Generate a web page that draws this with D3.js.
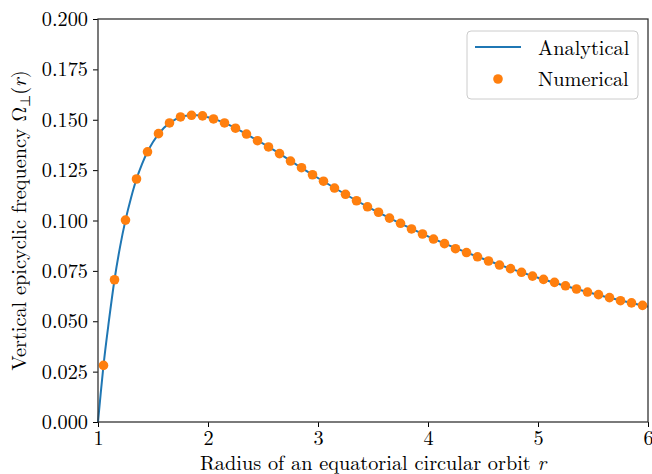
<!DOCTYPE html>
<html>
<head>
<meta charset="utf-8">
<script src="https://cdn.jsdelivr.net/npm/d3@7"></script>
<style>
  body { margin: 0; background: #fff; }
</style>
</head>
<body>
<div id="chart"></div>
<script>
// Numerical points
const numR = [1.05, 1.15, 1.25, 1.35, 1.45, 1.55, 1.65, 1.75, 1.85, 1.95,
  2.05, 2.15, 2.25, 2.35, 2.45, 2.55, 2.65, 2.75, 2.85, 2.95,
  3.05, 3.15, 3.25, 3.35, 3.45, 3.55, 3.65, 3.75, 3.85, 3.95,
  4.05, 4.15, 4.25, 4.35, 4.45, 4.55, 4.65, 4.75, 4.85, 4.95,
  5.05, 5.15, 5.25, 5.35, 5.45, 5.55, 5.65, 5.75, 5.85, 5.95];
const numOmega = [0.0281, 0.0706, 0.1002, 0.1206, 0.1341, 0.1431, 0.1484, 0.1514, 0.1522, 0.1519,
  0.1504, 0.1484, 0.1458, 0.1429, 0.1396, 0.1365, 0.1332, 0.1295, 0.1262, 0.1227,
  0.1195, 0.1161, 0.1130, 0.1098, 0.1068, 0.1041, 0.1012, 0.0986, 0.0958, 0.0933,
  0.0908, 0.0885, 0.0860, 0.0841, 0.0820, 0.0799, 0.0779, 0.0761, 0.0743, 0.0724,
  0.0708, 0.0693, 0.0676, 0.0660, 0.0645, 0.0632, 0.0617, 0.0602, 0.0591, 0.0579];

// Analytical curve
const anaR = [1.0, 1.025, 1.05, 1.1, 1.15, 1.2, 1.25, 1.3, 1.35, 1.4, 1.45, 1.5,
  1.6, 1.7, 1.8, 1.9, 2.0, 2.2, 2.4, 2.6, 2.8, 3.0, 3.5, 4.0, 4.5, 5.0, 5.5, 6.0];
const anaOmega = [0.0, 0.0145, 0.0281, 0.0505, 0.0706, 0.0868, 0.1002, 0.1112, 0.1206, 0.1280, 0.1341, 0.1390,
  0.1460, 0.1501, 0.1520, 0.1522, 0.1512, 0.1472, 0.1413, 0.1349, 0.1279, 0.1211, 0.1054, 0.0921, 0.0810, 0.0716, 0.0638, 0.0572];

const xTicks = [1, 2, 3, 4, 5, 6];
const yTicks = [0, 0.025, 0.05, 0.075, 0.1, 0.125, 0.15, 0.175, 0.2];

const width = 652;
const height = 474;
const mLeft = 98, mRight = 648, mTop = 19, mBottom = 422;
const font = "Latin Modern Roman, CMU Serif, serif";
const fs = 20.3;

const svg = d3.select("#chart")
  .append("svg")
  .attr("width", width)
  .attr("height", height);

const x = d3.scaleLinear().domain([1, 6]).range([mLeft, mRight]);
const y = d3.scaleLinear().domain([0, 0.2]).range([mBottom, mTop]);

// Analytical line
const anaData = anaR.map((r, i) => [r, anaOmega[i]]);
svg.append("path")
  .datum(anaData)
  .attr("fill", "none")
  .attr("stroke", "#1f77b4")
  .attr("stroke-width", 2)
  .attr("d", d3.line().x(d => x(d[0])).y(d => y(d[1])).curve(d3.curveMonotoneX));

// Numerical points
svg.append("g")
  .selectAll("circle")
  .data(numR.map((r, i) => [r, numOmega[i]]))
  .join("circle")
  .attr("cx", d => x(d[0]))
  .attr("cy", d => y(d[1]))
  .attr("r", 4.8)
  .attr("fill", "#ff7f0e");

// Axes
const xAxis = svg.append("g")
  .attr("transform", `translate(0, ${mBottom})`)
  .call(d3.axisBottom(x).tickValues(xTicks).tickSize(5).tickPadding(4).tickFormat(d3.format("d")));
const yAxis = svg.append("g")
  .attr("transform", `translate(${mLeft}, 0)`)
  .call(d3.axisLeft(y).tickValues(yTicks).tickSize(5).tickPadding(5).tickFormat(d3.format(".3f")));
[xAxis, yAxis].forEach(g => {
  g.attr("font-family", font).attr("font-size", fs);
  g.select(".domain").remove();
  g.selectAll("line").attr("stroke", "#000").attr("stroke-width", 1);
});

// Frame
svg.append("rect")
  .attr("x", mLeft).attr("y", mTop)
  .attr("width", mRight - mLeft).attr("height", mBottom - mTop)
  .attr("fill", "none")
  .attr("stroke", "#333")
  .attr("stroke-width", 1.3);

// Labels
const xl = svg.append("text")
  .attr("x", (mLeft + mRight) / 2)
  .attr("y", 470)
  .attr("text-anchor", "middle")
  .attr("font-family", font)
  .attr("font-size", fs);
xl.append("tspan").text("Radius of an equatorial circular orbit ");
xl.append("tspan").attr("font-style", "italic").text("r");

const yl = svg.append("text")
  .attr("transform", `translate(25.5, ${(mTop + mBottom) / 2}) rotate(-90)`)
  .attr("text-anchor", "middle")
  .attr("font-family", font)
  .attr("font-size", fs);
yl.append("tspan").text("Vertical epicyclic frequency Ω");
yl.append("tspan").attr("dy", 4).attr("font-size", 14).text("⊥");
yl.append("tspan").attr("dy", -4).text("(");
yl.append("tspan").attr("font-style", "italic").text("r");
yl.append("tspan").text(")");

// Legend
const legend = svg.append("g");
legend.append("rect")
  .attr("x", 467).attr("y", 31)
  .attr("width", 171).attr("height", 68)
  .attr("rx", 4)
  .attr("fill", "#fff")
  .attr("fill-opacity", 0.8)
  .attr("stroke", "#ccc");
legend.append("line")
  .attr("x1", 475).attr("x2", 521)
  .attr("y1", 47).attr("y2", 47)
  .attr("stroke", "#1f77b4").attr("stroke-width", 2);
legend.append("circle")
  .attr("cx", 498).attr("cy", 79).attr("r", 4.8)
  .attr("fill", "#ff7f0e");
legend.append("text").attr("x", 538).attr("y", 55)
  .attr("font-family", font).attr("font-size", fs).text("Analytical");
legend.append("text").attr("x", 538).attr("y", 86)
  .attr("font-family", font).attr("font-size", fs).text("Numerical");
</script>
</body>
</html>
